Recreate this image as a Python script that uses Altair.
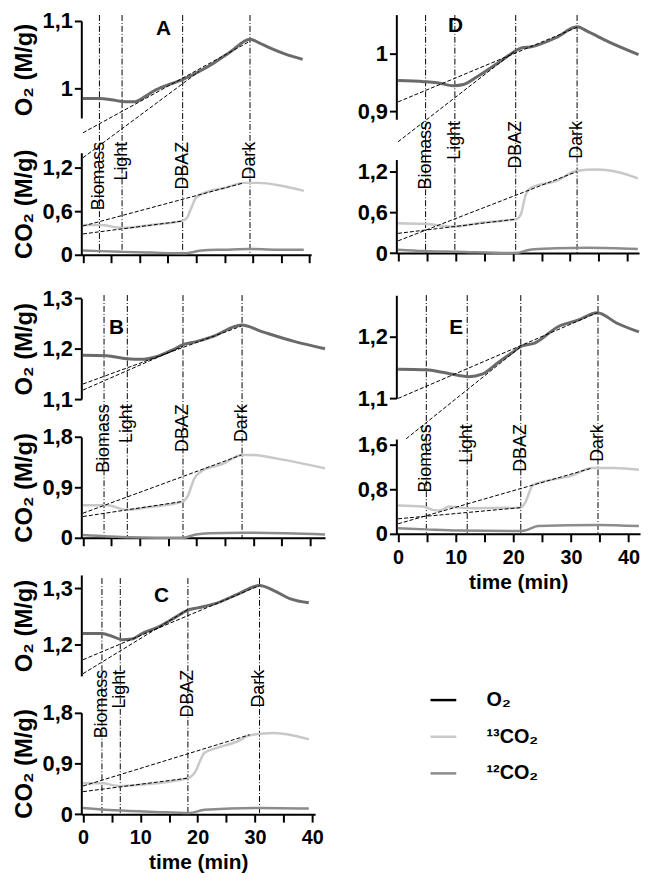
import altair as alt
import pandas as pd

FONT = "Liberation Sans"
EVENTS = ["Biomass", "Light", "DBAZ", "Dark"]

# ---------------- Panel A ----------------
A_events = [2.9, 6.9, 17.6, 29.5]
A_o2_t = [0, 3, 5, 7.5, 9, 11, 12.5, 15, 17.6, 20.5, 23, 26, 29.5, 31, 33, 36, 38.8]
A_o2_v = [0.985, 0.985, 0.983, 0.980, 0.980, 0.988, 0.996, 1.005, 1.013, 1.025, 1.037, 1.054, 1.073, 1.068, 1.060, 1.050, 1.043]
A_c13_t = [0, 3, 7, 12, 17.6, 18.3, 19, 20, 21.7, 25, 28.4, 31, 35, 39]
A_c13_v = [0.41, 0.41, 0.37, 0.41, 0.47, 0.50, 0.62, 0.79, 0.86, 0.92, 0.99, 0.99, 0.95, 0.88]
A_c12_t = [0, 3, 7, 12, 17.6, 19, 21, 25, 29.5, 34, 39]
A_c12_v = [0.06, 0.05, 0.04, 0.03, 0.02, 0.03, 0.06, 0.07, 0.08, 0.07, 0.07]
A_o2fit_t = [[0, 29.5], [0, 20.5]]
A_o2fit_v = [[0.934, 1.07], [0.897, 1.025]]
A_cfit_t = [[0, 28.4], [0, 17.6]]
A_cfit_v = [[0.396, 0.99], [0.287, 0.464]]
A_letter = ["A", 14.2, 1.088]

# ---------------- Panel B ----------------
B_events = [3.7, 7.8, 17.6, 28.0]
B_o2_t = [0, 4.2, 7.7, 10.6, 12.9, 15.8, 17.6, 19.9, 22.8, 27.9, 31.5, 37.3, 42.6]
B_o2_v = [1.187, 1.186, 1.180, 1.179, 1.184, 1.198, 1.208, 1.214, 1.224, 1.247, 1.234, 1.214, 1.200]
B_c13_t = [0, 4.2, 7.7, 11.2, 17.6, 18.4, 19.6, 21, 24.6, 27.9, 29.8, 34.4, 42.6]
B_c13_v = [0.58, 0.58, 0.50, 0.54, 0.65, 0.74, 1.06, 1.20, 1.32, 1.48, 1.48, 1.41, 1.24]
B_c12_t = [0, 8.3, 17.6, 19.9, 22.2, 28, 42.6]
B_c12_v = [0.05, 0.01, 0.0, 0.06, 0.08, 0.09, 0.06]
B_o2fit_t = [[0, 27.9], [0, 17.6]]
B_o2fit_v = [[1.130, 1.245], [1.118, 1.205]]
B_cfit_t = [[0, 27.9], [0, 17.6]]
B_cfit_v = [[0.44, 1.48], [0.38, 0.65]]
B_letter = ["B", 5.9, 1.241]

# ---------------- Panel C ----------------
C_events = [3.3, 6.5, 18.3, 30.8]
C_o2_t = [0, 3.3, 5.1, 6.8, 8.5, 10.3, 13.2, 16.1, 18.3, 20, 22.9, 26.9, 30.8, 33.3, 36.2, 39.4]
C_o2_v = [1.219, 1.219, 1.214, 1.208, 1.209, 1.219, 1.231, 1.248, 1.261, 1.265, 1.272, 1.289, 1.305, 1.296, 1.281, 1.274]
C_c13_t = [0, 3.3, 6.2, 9.7, 18.3, 19.5, 21.2, 23.5, 26.9, 29.1, 33.3, 39.4]
C_c13_v = [0.55, 0.55, 0.50, 0.52, 0.64, 0.74, 1.09, 1.18, 1.29, 1.40, 1.44, 1.33]
C_c12_t = [0, 5.6, 12.5, 18.6, 21.2, 30.8, 39.4]
C_c12_v = [0.11, 0.07, 0.04, 0.02, 0.08, 0.11, 0.10]
C_o2fit_t = [[0, 30.8], [0, 18.3]]
C_o2fit_v = [[1.172, 1.305], [1.147, 1.262]]
C_cfit_t = [[0, 29.1], [0, 18.3]]
C_cfit_v = [[0.50, 1.41], [0.40, 0.64]]
C_letter = ["C", 13.7, 1.287]

# ---------------- Panel D ----------------
D_events = [4.8, 9.9, 20.5, 31.2]
D_o2_t = [0, 4.5, 6.8, 9.7, 11.4, 13.7, 17.2, 19.5, 20.9, 21.8, 23, 27.5, 31.2, 33.2, 36.7, 41.9]
D_o2_v = [0.953, 0.951, 0.949, 0.944, 0.946, 0.959, 0.982, 0.998, 1.007, 1.010, 1.011, 1.027, 1.046, 1.037, 1.020, 0.998]
D_c13_t = [0, 4.5, 9.7, 14.8, 20.6, 21.4, 22.3, 23.4, 27.5, 31.2, 34.4, 37.2, 41.8]
D_c13_v = [0.44, 0.43, 0.39, 0.45, 0.50, 0.57, 0.87, 0.97, 1.06, 1.21, 1.23, 1.21, 1.10]
D_c12_t = [0, 4.5, 10, 20.5, 23, 27.5, 33.2, 41.8]
D_c12_v = [0.05, 0.03, 0.02, 0.0, 0.05, 0.07, 0.08, 0.06]
D_o2fit_t = [[0, 31.2], [0, 20.5]]
D_o2fit_v = [[0.916, 1.045], [0.847, 1.005]]
D_cfit_t = [[0, 20.6], [0, 31.2]]
D_cfit_v = [[0.29, 0.50], [0.18, 1.20]]
D_letter = ["D", 10.0, 1.048]

# ---------------- Panel E ----------------
E_events = [4.9, 12.0, 21.3, 34.7]
E_o2_t = [0, 4.9, 7.7, 10.6, 12.3, 14.6, 17.4, 19.7, 21.4, 23.7, 27.7, 31.2, 34.6, 38, 41.8]
E_o2_v = [1.147, 1.146, 1.142, 1.137, 1.135, 1.139, 1.158, 1.173, 1.184, 1.189, 1.215, 1.226, 1.238, 1.221, 1.207]
E_c13_t = [0, 4.3, 6, 7.3, 8.9, 10.6, 13.4, 21.3, 22, 23.4, 25.4, 30, 33.7, 37.4, 41.8]
E_c13_v = [0.51, 0.49, 0.43, 0.42, 0.49, 0.47, 0.46, 0.47, 0.55, 0.87, 0.94, 1.04, 1.18, 1.18, 1.15]
E_c12_t = [0, 4.9, 10.6, 20.9, 22, 24.3, 34.6, 41.8]
E_c12_v = [0.10, 0.08, 0.06, 0.05, 0.06, 0.14, 0.16, 0.14]
E_o2fit_t = [[0, 34.6], [1.4, 21.4]]
E_o2fit_v = [[1.100, 1.238], [1.035, 1.184]]
E_cfit_t = [[0, 21.3], [0, 33.7]]
E_cfit_v = [[0.27, 0.47], [0.18, 1.18]]
E_letter = ["E", 10.1, 1.213]

# legend
LEG_NAMES = ["O₂", "¹³CO₂", "¹²CO₂"]
LEG_COLORS = ["#000000", "#c8c8c8", "#8c8c8c"]
O2_COLOR = "#6a6a6a"
C13_COLOR = "#c8c8c8"
C12_COLOR = "#8c8c8c"

# layout / style (not data)
LAYOUT = {
    "A": dict(w=232, h=242, xdom=[-0.3, 40.3], o2dom=[0.956, 1.1], o2rng=[103.9, 6], o2ticks=[1.0, 1.1],
              co2dom=[0, 1.405], co2rng=[242, 139], co2ticks=[0, 0.6, 1.2], label_y=1.555, titles=True, xlabels=False),
    "B": dict(w=246, h=245, xdom=[-0.3, 42.6], o2dom=[1.1, 1.3], o2rng=[105, 3.3], o2ticks=[1.1, 1.2, 1.3],
              co2dom=[0, 1.8], co2rng=[245, 143.3], co2ticks=[0, 0.9, 1.8], label_y=2.384, titles=True, xlabels=False),
    "C": dict(w=236, h=238.3, xdom=[-0.3, 40.5], o2dom=[1.143, 1.324], o2rng=[98.7, -3.2], o2ticks=[1.2, 1.3],
              co2dom=[0, 1.8], co2rng=[238.3, 135.9], co2ticks=[0, 0.9, 1.8], label_y=2.56, titles=True, xlabels=True),
    "D": dict(w=245, h=240.3, xdom=[-0.3, 42], o2dom=[0.886, 1.067], o2rng=[105.2, -0.4], o2ticks=[0.9, 1.0],
              co2dom=[0, 1.376], co2rng=[240.3, 145.9], co2ticks=[0, 0.6, 1.2], label_y=1.943, titles=False, xlabels=False),
    "E": dict(w=246, h=241, xdom=[-0.3, 42], o2dom=[1.1, 1.266], o2rng=[104.3, 0.2], o2ticks=[1.1, 1.2],
              co2dom=[0, 1.7], co2rng=[241, 145.3], co2ticks=[0, 0.8, 1.6], label_y=1.966, titles=False, xlabels=True),
}

DATA = {
    "A": (A_events, A_o2_t, A_o2_v, A_c13_t, A_c13_v, A_c12_t, A_c12_v, A_o2fit_t, A_o2fit_v, A_cfit_t, A_cfit_v, A_letter),
    "B": (B_events, B_o2_t, B_o2_v, B_c13_t, B_c13_v, B_c12_t, B_c12_v, B_o2fit_t, B_o2fit_v, B_cfit_t, B_cfit_v, B_letter),
    "C": (C_events, C_o2_t, C_o2_v, C_c13_t, C_c13_v, C_c12_t, C_c12_v, C_o2fit_t, C_o2fit_v, C_cfit_t, C_cfit_v, C_letter),
    "D": (D_events, D_o2_t, D_o2_v, D_c13_t, D_c13_v, D_c12_t, D_c12_v, D_o2fit_t, D_o2fit_v, D_cfit_t, D_cfit_v, D_letter),
    "E": (E_events, E_o2_t, E_o2_v, E_c13_t, E_c13_v, E_c12_t, E_c12_v, E_o2fit_t, E_o2fit_v, E_cfit_t, E_cfit_v, E_letter),
}


def fit_df(ts, vs):
    rows = []
    for k, (tt, vv) in enumerate(zip(ts, vs)):
        for t, v in zip(tt, vv):
            rows.append({"t": t, "v": v, "k": k})
    return pd.DataFrame(rows)


def panel(key, legend=False):
    ev, o2t, o2v, c13t, c13v, c12t, c12v, o2ft, o2fv, cft, cfv, letter = DATA[key]
    L = LAYOUT[key]

    xs = alt.Scale(domain=L["xdom"], nice=False, zero=False)
    tick_vals = list(range(0, 41, 5))
    if L["xlabels"]:
        xaxis = alt.Axis(values=tick_vals, tickSize=8, grid=False, labelFlush=False, title="time (min)",
                         labelExpr="datum.value % 10 == 0 ? datum.label : ''", labelPadding=6,
                         labelFontSize=20, titlePadding=4, titleFontSize=21)
    else:
        xaxis = alt.Axis(values=tick_vals, tickSize=8, grid=False, labels=False, title=None)
    X = alt.X("t:Q", scale=xs, axis=xaxis)

    def ys(kind):
        return alt.Scale(domain=L[kind + "dom"], range=L[kind + "rng"], nice=False, zero=False)

    def yaxis(kind, title):
        kw = dict(orient="left", values=L[kind + "ticks"], format=".1~f", labelFlush=False,
                  labelExpr="replace(datum.label, '.', ',')", tickSize=7, labelPadding=2, grid=False)
        if L["titles"]:
            kw["title"] = title
            kw["titlePadding"] = 6
        else:
            kw["title"] = None
        return alt.Axis(**kw)

    ev_df = pd.DataFrame({"t": ev, "name": EVENTS, "ly": [L["label_y"]] * len(ev)})
    o2_df = pd.DataFrame({"t": o2t, "v": o2v})
    c13_df = pd.DataFrame({"t": c13t, "v": c13v})
    c12_df = pd.DataFrame({"t": c12t, "v": c12v})
    let_df = pd.DataFrame({"t": [letter[1]], "v": [letter[2]], "s": [letter[0]]})

    rules = alt.Chart(ev_df).mark_rule(color="black", strokeWidth=1, strokeDash=[6, 2, 1, 2]).encode(
        x=X, y=alt.value(0), y2=alt.value("height"))
    o2_line = alt.Chart(o2_df).mark_line(color=O2_COLOR, strokeWidth=3, interpolate="monotone").encode(
        x=X, y=alt.Y("v:Q", scale=ys("o2"), axis=yaxis("o2", "O₂  (M/g)")))
    o2_fit = alt.Chart(fit_df(o2ft, o2fv)).mark_line(color="black", strokeWidth=1, strokeDash=[4, 2]).encode(
        x=X, y=alt.Y("v:Q", scale=ys("o2"), axis=None), detail="k:N")
    c13_line = alt.Chart(c13_df).mark_line(color=C13_COLOR, strokeWidth=2.5, interpolate="monotone").encode(
        x=X, y=alt.Y("v:Q", scale=ys("co2"), axis=yaxis("co2", "CO₂ (M/g)")))
    c12_line = alt.Chart(c12_df).mark_line(color=C12_COLOR, strokeWidth=2.5, interpolate="monotone").encode(
        x=X, y=alt.Y("v:Q", scale=ys("co2"), axis=None))
    c_fit = alt.Chart(fit_df(cft, cfv)).mark_line(color="black", strokeWidth=1, strokeDash=[4, 2]).encode(
        x=X, y=alt.Y("v:Q", scale=ys("co2"), axis=None), detail="k:N")
    labels = alt.Chart(ev_df).mark_text(angle=270, align="right", baseline="middle", font=FONT,
                                        fontSize=18, color="black").encode(
        x=X, y=alt.Y("ly:Q", scale=ys("co2"), axis=None), text="name:N")
    let = alt.Chart(let_df).mark_text(font=FONT, fontSize=21, fontWeight="bold", color="black").encode(
        x=X, y=alt.Y("v:Q", scale=ys("o2"), axis=None), text="s:N")

    layers = [rules, o2_line, c13_line, c12_line, o2_fit, c_fit, labels, let]
    if legend:
        leg_df = pd.DataFrame({"t": [0.0, 0.0, 0.0], "v": [None, None, None], "name": LEG_NAMES})
        leg = alt.Chart(leg_df).mark_line(strokeWidth=2.5).encode(
            x=X, y=alt.Y("v:Q", scale=alt.Scale(domain=[0, 1]), axis=None),
            color=alt.Color("name:N", scale=alt.Scale(domain=LEG_NAMES, range=LEG_COLORS),
                            legend=alt.Legend(orient="none", legendX=351, legendY=677, title=None,
                                              symbolType="stroke", symbolSize=676, symbolStrokeWidth=2.5,
                                              labelFont=FONT, labelFontSize=20, labelFontWeight="bold",
                                              labelColor="black", labelOffset=29, rowPadding=12)))
        layers.append(leg)

    return alt.layer(*layers).resolve_scale(y="independent").properties(width=L["w"], height=L["h"])


chart = alt.concat(
    panel("A"), panel("D"), panel("B"), panel("E"), panel("C", legend=True),
    columns=2, spacing={"row": 40.7, "column": 72}, bounds="flush"
).properties(padding={"left": 4, "top": -2, "right": 0, "bottom": 0}).configure_view(
    stroke=None
).configure_axis(
    labelFont=FONT, titleFont=FONT, labelFontWeight="bold", titleFontWeight="bold",
    labelFontSize=22, titleFontSize=24, labelColor="black", titleColor="black",
    domainColor="black", tickColor="black", domainWidth=2, tickWidth=2
)

chart.save("out.html", embed_options={"renderer": "svg", "actions": False})
